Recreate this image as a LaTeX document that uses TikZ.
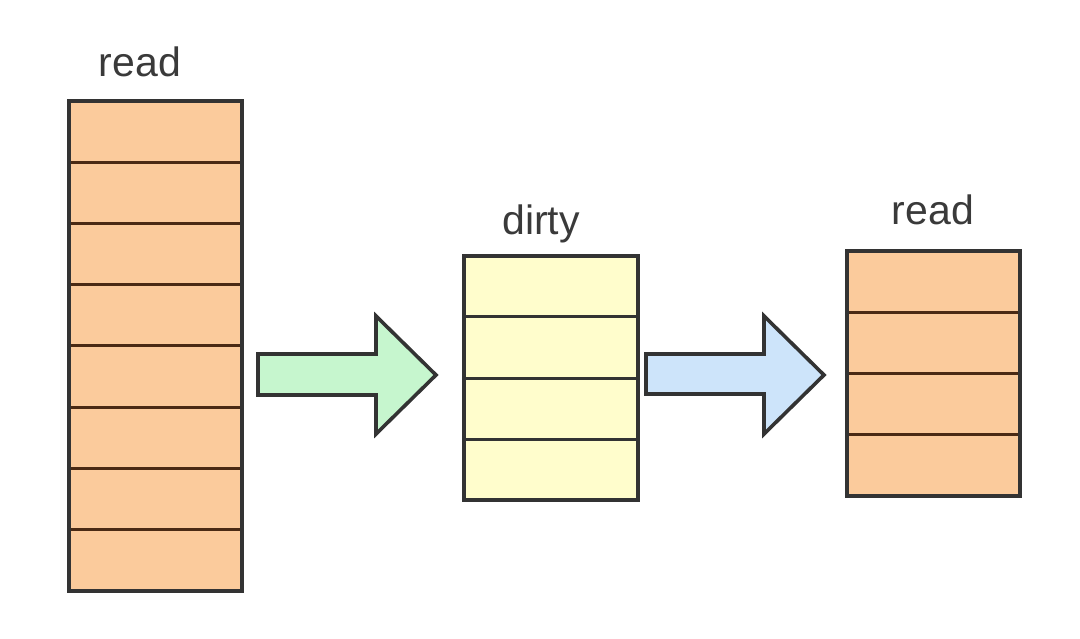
\documentclass[tikz,border=0pt]{standalone}
\usepackage{fontspec}
\setmainfont{Liberation Sans}
\definecolor{readfill}{HTML}{FBCB9C}
\definecolor{dirtyfill}{HTML}{FFFDCC}
\definecolor{greenfill}{HTML}{C6F6CE}
\definecolor{bluefill}{HTML}{CDE4FA}
\definecolor{edge}{HTML}{333333}
\definecolor{sep}{HTML}{4A2A14}
\definecolor{txt}{HTML}{3A3A3A}
\begin{document}
\begin{tikzpicture}[x=1pt,y=-1pt,
  readcell/.style={fill=readfill},
  dirtycell/.style={fill=dirtyfill},
  outline/.style={draw=edge,line width=3.2pt},
  sepline/.style={draw=sep,line width=3pt},
  lbl/.style={text=txt,font=\fontsize{41}{48}\selectfont},
  blockarrow/.style={draw=edge,line width=3.6pt,line join=miter}]
\useasboundingbox (0,0) rectangle (1080,639);
% left read column
\foreach \i in {0,...,7}{
  \path[readcell] (69,{101+61.25*\i}) rectangle (242,{101+61.25*(\i+1)});
}
\foreach \i in {1,...,7}{
  \draw[sepline] (69,{101+61.25*\i}) -- (242,{101+61.25*\i});
}
\draw[outline] (69,101) rectangle (242,591);
\node[lbl] (read1) at (140,62) {read};
% dirty column
\path[dirtycell] (464,256) rectangle (638,500);
\foreach \i in {1,...,3}{
  \draw[sepline,draw=edge] (464,{256+61*\i}) -- (638,{256+61*\i});
}
\draw[outline] (464,256) rectangle (638,500);
\node[lbl] (dirty) at (541,224) {dirty};
% right read column
\path[readcell] (847,251) rectangle (1020,496);
\foreach \i in {1,...,3}{
  \draw[sepline] (847,{251+61.25*\i}) -- (1020,{251+61.25*\i});
}
\draw[outline] (847,251) rectangle (1020,496);
\node[lbl] (read2) at (933,210) {read};
% arrows
\draw[blockarrow,fill=greenfill] (258,354) -- (376,354) -- (376,316) -- (436,375) -- (376,434) -- (376,395) -- (258,395) -- cycle;
\draw[blockarrow,fill=bluefill] (646,354) -- (764,354) -- (764,316) -- (824,375) -- (764,434) -- (764,394) -- (646,394) -- cycle;
\end{tikzpicture}
\end{document}
